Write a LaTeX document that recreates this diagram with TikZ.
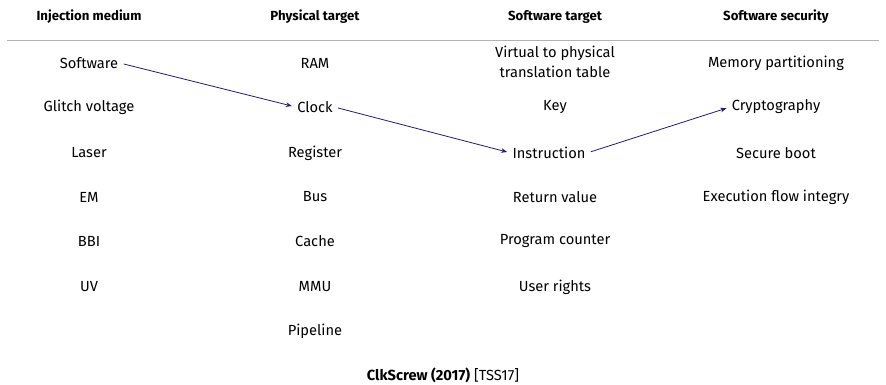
\documentclass[tikz,border=0pt]{standalone}
\usepackage{fontspec}
\setmainfont{Fira Sans}
\usepackage{tikz}
\usetikzlibrary{arrows.meta}

\definecolor{navy}{RGB}{30,30,110}

\begin{document}
\begin{tikzpicture}[x=0.75pt, y=-0.75pt,
        nodes={inner sep=1pt, font=\fontsize{11}{15}\selectfont},
        head/.style={font=\fontsize{9.9}{12.5}\selectfont\bfseries},
        link/.style={draw=navy, line width=0.6pt, -{Stealth[length=4.5pt, width=3.5pt]}, shorten >=3pt, shorten <=3pt}]
                \useasboundingbox (0,0) rectangle (886,385);

                \node[head] (h1) at (89,17) {Injection medium};
                \node[head] (h2) at (315,17) {Physical target};
                \node[head] (h3) at (555,17) {Software target};
                \node[head] (h4) at (776,17) {Software security};
                \draw [black!30, line width=0.5pt] (7,40) -- (879,40);

                % injection medium
                \node (software) at (89,63) {Software};
                \node (glitch) at (89,107) {Glitch voltage};
                \node (laser) at (89,153) {Laser};
                \node (em) at (89,197) {EM};
                \node (bbi) at (89,241) {BBI};
                \node (uv) at (89,287) {UV};

                % physical target
                \node (ram) at (315,63) {RAM};
                \node (clock) at (315,107) {Clock};
                \node (register) at (315,153) {Register};
                \node (bus) at (315,197) {Bus};
                \node (cache) at (315,241) {Cache};
                \node (mmu) at (315,287) {MMU};
                \node (pipeline) at (315,331) {Pipeline};

                % software target
                \node[align=center] (virtual) at (555,62) {Virtual to physical\\translation table};
                \node (key) at (555,107) {Key};
                \node (instruction) at (549,153) {Instruction};
                \node (retval) at (555,197) {Return value};
                \node (pc) at (555,241) {Program counter};
                \node (rights) at (555,287) {User rights};

                % software security
                \node (mempart) at (776,63) {Memory partitioning};
                \node (crypto) at (776,107) {Cryptography};
                \node (boot) at (776,153) {Secure boot};
                \node (flow) at (776,197) {Execution flow integry};

                \draw [link] (software.east) -- (clock.west);
                \draw [link] (clock.east) -- (instruction.west);
                \draw [link] (instruction.east) -- (crypto.west);

                \node (caption) at (443,375) {\textbf{ClkScrew (2017)} [TSS17]};
            \end{tikzpicture}
\end{document}
